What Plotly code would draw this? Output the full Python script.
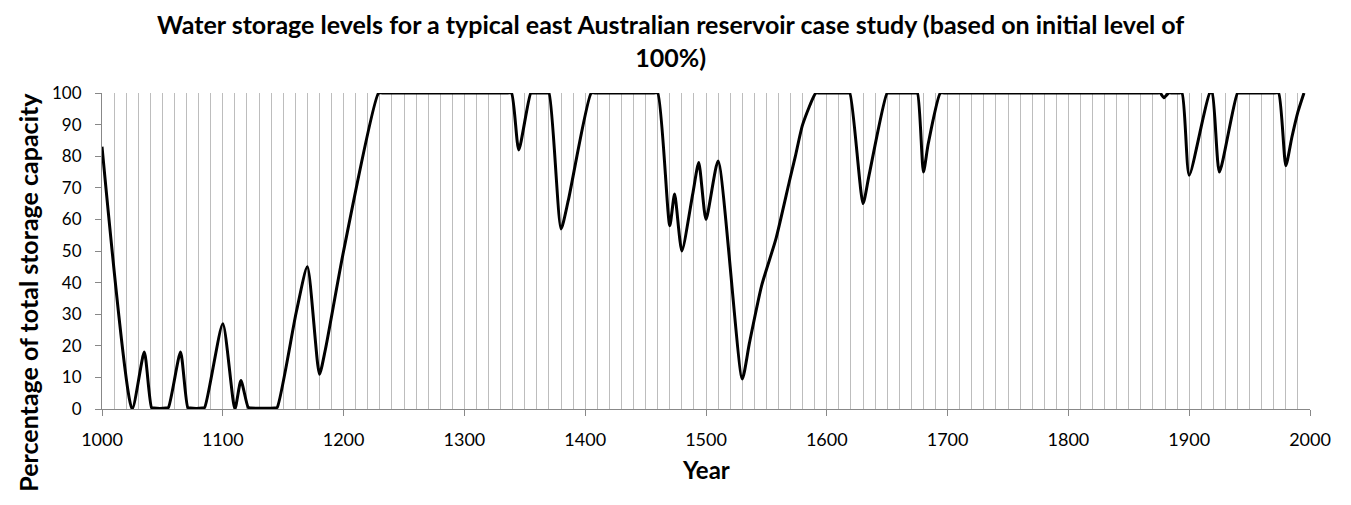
import plotly.graph_objects as go

years = [1000, 1025, 1035, 1041, 1043, 1053, 1055, 1065, 1071, 1073, 1083, 1085,
         1100, 1110, 1115, 1121, 1123, 1143, 1145, 1161, 1170, 1180, 1185, 1200,
         1229, 1232, 1336, 1339, 1345, 1355, 1357, 1368, 1370, 1380, 1386, 1405,
         1408, 1457, 1460, 1470, 1474, 1480, 1489, 1494, 1500, 1510, 1530, 1536,
         1546, 1558, 1569, 1574, 1580, 1591, 1594, 1617, 1619, 1630, 1635, 1650,
         1652, 1673, 1675, 1680, 1684, 1694, 1697, 1873, 1876, 1879, 1883, 1886,
         1891, 1894, 1900, 1917, 1919, 1925, 1940, 1942, 1971, 1974, 1980, 1985,
         1990, 1995]
levels = [83, 0, 18, 0.5, 0.3, 0.3, 0.5, 18, 0.5, 0.3, 0.3, 0.5,
          27, 0, 9, 0.5, 0.3, 0.3, 0.5, 31, 45, 11, 19, 50,
          100, 100, 100, 100, 82, 100, 100, 100, 100, 57, 66, 100,
          100, 100, 100, 58, 68, 50, 68, 78, 60, 78.5, 9.5, 21,
          39, 54, 72, 80, 90, 100, 100, 100, 100, 65, 74, 100,
          100, 100, 100, 75, 84, 100, 100, 100, 100, 98.5, 100, 100,
          100, 100, 74, 100, 100, 75, 100, 100, 100, 100, 77, 86,
          94, 100]

title_text = ("Water storage levels for a typical east Australian reservoir case study (based on initial level of"
              "<br>100%)")
x_title = "Year"
y_title = "Percentage of total storage capacity"

FONT = "Lato, Open Sans, sans-serif"
GRID = "#bdbdbd"

fig = go.Figure()
fig.add_trace(go.Scatter(
    x=years, y=levels, mode="lines",
    line=dict(color="black", width=3, shape="spline", smoothing=0.6),
    cliponaxis=False, showlegend=False, hoverinfo="x+y"))

fig.update_layout(
    width=1351, height=505,
    margin=dict(l=94, r=49, t=85, b=104),
    paper_bgcolor="white", plot_bgcolor="white",
    font=dict(family=FONT, color="black", size=18),
    xaxis=dict(range=[1000, 2000], tickmode="linear", tick0=1000, dtick=100,
               showgrid=True, gridcolor=GRID, gridwidth=1,
               minor=dict(dtick=10, showgrid=True, gridcolor=GRID, gridwidth=1),
               showline=True, linecolor="#888888", linewidth=1,
               ticks="outside", ticklen=6, tickcolor="#888888",
               ticklabelstandoff=8,
               zeroline=False, tickfont=dict(size=18, color="black")),
    yaxis=dict(range=[0, 100], tickmode="linear", tick0=0, dtick=10,
               showgrid=False, showline=True, linecolor="#888888", linewidth=1,
               ticks="outside", ticklen=6, tickcolor="#888888",
               ticklabelstandoff=10,
               zeroline=False, tickfont=dict(size=17, color="black")),
)

fig.add_annotation(text="<b>" + title_text + "</b>", xref="paper", yref="paper",
                   x=0.471, y=1.1646, xanchor="center", yanchor="middle",
                   showarrow=False, align="center",
                   font=dict(family=FONT, size=25, color="black"))
fig.add_annotation(text="<b>" + x_title + "</b>", xref="paper", yref="paper",
                   x=0.5, y=-0.193, xanchor="center", yanchor="middle",
                   showarrow=False,
                   font=dict(family=FONT, size=24, color="black"))
fig.add_annotation(text="<b>" + y_title + "</b>", xref="paper", yref="paper",
                   x=-0.061, y=0.369, xanchor="center", yanchor="middle",
                   textangle=-90, showarrow=False,
                   font=dict(family=FONT, size=25, color="black"))

fig.write_html("out.html")
